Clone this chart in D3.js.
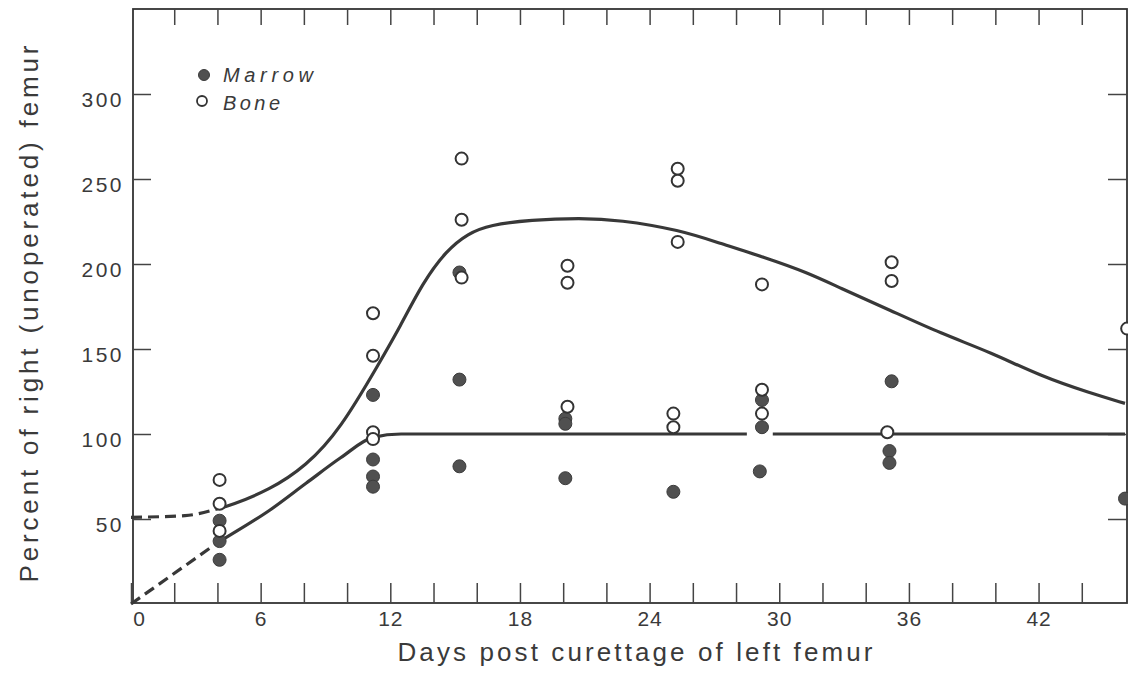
<!DOCTYPE html>
<html>
<head>
<meta charset="utf-8">
<script src="https://cdn.jsdelivr.net/npm/d3@7"></script>
<style>
    body { margin: 0; background: #fff; }
    svg { display: block; }
    text { font-family: "Liberation Sans", Arial, sans-serif; fill: #3a3a3a; }
</style>
</head>
<body>
<div id="chart"></div>
<script>
// open circles: bone
const boneDays = [4.1, 4.1, 4.1, 11.2, 11.2, 11.2, 11.2, 15.3, 15.3, 15.3, 20.2, 20.2, 20.2,
    25.3, 25.3, 25.3, 25.1, 25.1, 29.2, 29.2, 29.2, 35.2, 35.2, 35.0, 46.1];
const boneValues = [73, 59, 43, 171, 146, 101, 97, 262, 226, 192, 199, 189, 116,
    256, 249, 213, 112, 104, 188, 126, 112, 201, 190, 101, 162];

// filled circles: marrow
const marrowDays = [4.1, 4.1, 4.1, 11.2, 11.2, 11.2, 11.2, 15.2, 15.2, 15.2, 20.1, 20.1, 20.1,
    25.1, 29.2, 29.2, 29.1, 35.2, 35.1, 35.1, 46.0];
const marrowValues = [49, 37, 26, 123, 85, 75, 69, 195, 132, 81, 109, 106, 74,
    66, 120, 104, 78, 131, 90, 83, 62];

// fitted curves
const boneDashDays = [0, 2.5, 4.0];
const boneDashValues = [51, 52, 56];
const boneCurveDays = [4.0, 4.6, 6.4, 8.1, 9.7, 11.5, 12.45, 13.5, 14.6, 15.6, 16.6, 18.5, 20.8,
    22.6, 25.4, 27.3, 29.3, 31.3, 32.8, 35.1, 37.5, 39.8, 42.1, 44.4, 46];
const boneCurveValues = [56, 58, 67, 81, 103, 142, 163, 189, 208, 218, 223, 226, 227,
    226, 220, 212, 204, 195, 186, 173, 159, 148, 134, 124, 118];

const marrowDashDays = [0, 4.0];
const marrowDashValues = [0, 36];
const marrowCurveDays = [4.0, 4.6, 6.4, 8.1, 9.7, 11.2, 12.5, 20, 28.5, 29.1, 29.7, 38, 46];
const marrowCurveValues = [36, 40.6, 55, 71, 86, 98, 100, 100, 100, null, 100, 100, 100];

const xTicks = d3.range(0, 46, 2);
const xTickLabels = [0, 6, 12, 18, 24, 30, 36, 42];
const yTicks = [50, 100, 150, 200, 250, 300];

const width = 1128, height = 674;
const ink = '#333';

const svg = d3.select('#chart').append('svg')
    .attr('width', width)
    .attr('height', height);

const x = d3.scaleLinear().domain([0, 46]).range([131, 1125]);
const y = d3.scaleLinear().domain([0, 350]).range([604, 9]);

// frame
svg.append('rect')
    .attr('x', x(0) + 2).attr('y', y(350))
    .attr('width', x(46) - x(0)).attr('height', y(0) - y(350) - 1)
    .attr('fill', 'none')
    .attr('stroke', ink)
    .attr('stroke-width', 1.8);

const styleTicks = (g) => {
    g.select('.domain').remove();
    g.selectAll('.tick line').attr('stroke', '#444').attr('stroke-width', 1.5);
};

// bottom axis, ticks point inward
svg.append('g')
    .attr('transform', `translate(0,${y(0) - 1})`)
    .call(d3.axisBottom(x).tickValues(xTicks).tickSize(-20).tickPadding(8)
        .tickFormat(d => xTickLabels.includes(d) ? d : ''))
    .call(styleTicks)
    .call(g => g.selectAll('text')
        .attr('font-size', 21)
        .attr('letter-spacing', '1px')
        .attr('font-family', null)
        .attr('fill', '#3a3a3a'))
    .call(g => g.selectAll('.tick').filter(d => d === 0).select('text').attr('dx', 8));

// top axis
svg.append('g')
    .attr('transform', `translate(0,${y(350)})`)
    .call(d3.axisTop(x).tickValues(xTicks.slice(1)).tickSize(-16).tickFormat(''))
    .call(styleTicks);

// left axis
svg.append('g')
    .attr('transform', `translate(${x(0) + 2},0)`)
    .call(d3.axisLeft(y).tickValues(yTicks).tickSize(-18).tickPadding(9))
    .call(styleTicks)
    .call(g => g.selectAll('text')
        .attr('font-size', 21)
        .attr('letter-spacing', '2.5px')
        .attr('dy', '0.58em')
        .attr('font-family', null)
        .attr('fill', '#3a3a3a'));

// right axis
svg.append('g')
    .attr('transform', `translate(${x(46) + 2},0)`)
    .call(d3.axisRight(y).tickValues(yTicks).tickSize(-19).tickFormat(''))
    .call(styleTicks);

// curves
const line = d3.line()
    .defined(d => d[1] != null)
    .x(d => x(d[0]))
    .y(d => y(d[1]));

const curves = [
    { days: boneDashDays, values: boneDashValues, dash: '11,6', curve: d3.curveMonotoneX },
    { days: boneCurveDays, values: boneCurveValues, dash: null, curve: d3.curveBasis },
    { days: marrowDashDays, values: marrowDashValues, dash: '11,6', curve: d3.curveLinear },
    { days: marrowCurveDays, values: marrowCurveValues, dash: null, curve: d3.curveMonotoneX }
];

svg.append('g')
    .selectAll('path')
    .data(curves)
    .join('path')
    .attr('d', c => line.curve(c.curve)(c.days.map((d, i) => [d, c.values[i]])))
    .attr('fill', 'none')
    .attr('stroke', '#383838')
    .attr('stroke-width', 3.2)
    .attr('stroke-dasharray', c => c.dash);

// points: marrow first, bone on top
svg.append('g')
    .selectAll('circle')
    .data(marrowDays.map((d, i) => [d, marrowValues[i]]))
    .join('circle')
    .attr('cx', d => x(d[0]))
    .attr('cy', d => y(d[1]))
    .attr('r', 6.5)
    .attr('fill', '#505050')
    .attr('stroke', '#3c3c3c')
    .attr('stroke-width', 1);

svg.append('g')
    .selectAll('circle')
    .data(boneDays.map((d, i) => [d, boneValues[i]]))
    .join('circle')
    .attr('cx', d => x(d[0]))
    .attr('cy', d => y(d[1]))
    .attr('r', 6)
    .attr('fill', '#fff')
    .attr('stroke', ink)
    .attr('stroke-width', 2);

// legend
const legend = svg.append('g');
legend.append('circle').attr('cx', 204).attr('cy', 75).attr('r', 5.5)
    .attr('fill', '#505050').attr('stroke', '#3c3c3c');
legend.append('circle').attr('cx', 202).attr('cy', 101).attr('r', 5)
    .attr('fill', '#fff').attr('stroke', ink).attr('stroke-width', 1.8);
legend.append('text').attr('x', 223).attr('y', 82)
    .attr('font-size', 20).attr('font-style', 'italic')
    .attr('textLength', 90).attr('lengthAdjust', 'spacing')
    .text('Marrow');
legend.append('text').attr('x', 223).attr('y', 110)
    .attr('font-size', 20).attr('font-style', 'italic')
    .attr('textLength', 57).attr('lengthAdjust', 'spacing')
    .text('Bone');

// axis titles
svg.append('text')
    .attr('x', 635).attr('y', 661)
    .attr('text-anchor', 'middle')
    .attr('font-size', 26)
    .attr('textLength', 475).attr('lengthAdjust', 'spacing')
    .text('Days post curettage of left femur');

svg.append('text')
    .attr('transform', 'translate(38,314) rotate(-90)')
    .attr('text-anchor', 'middle')
    .attr('font-size', 26)
    .attr('textLength', 537).attr('lengthAdjust', 'spacing')
    .text('Percent of right (unoperated) femur');
</script>
</body>
</html>
